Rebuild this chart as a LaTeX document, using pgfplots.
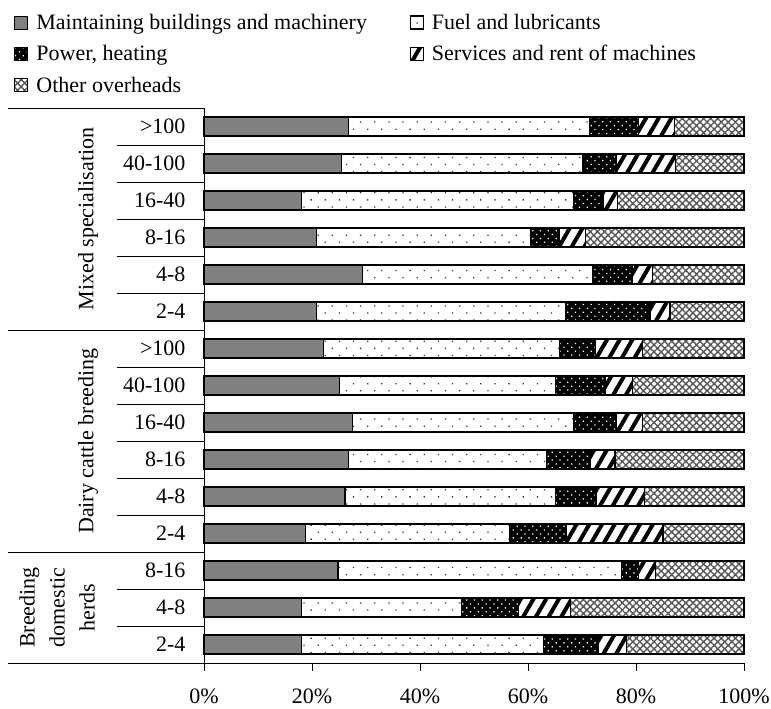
\documentclass[border=0pt]{standalone}
\usepackage{fontspec}
\setmainfont{Liberation Serif}
\usepackage{pgfplots}
\pgfplotsset{compat=1.18}
\usepackage{pgfplotstable}
\usetikzlibrary{patterns.meta}
\definecolor{maint}{RGB}{128,128,128}

\pgfplotstableread{
y maint fuel power serv other
0 18.1 44.8 10.1 5.3 21.7
1 18.1 29.6 10.6 9.6 32.1
2 24.8 52.5 3.2 3.1 16.4
3 18.8 37.8 10.6 17.8 15.0
4 26.1 39.0 7.5 8.9 18.5
5 26.8 36.6 8.2 4.5 23.9
6 27.5 41.0 7.9 4.8 18.8
7 25.1 40.0 9.3 4.9 20.7
8 22.2 43.6 6.7 8.7 18.8
9 20.9 46.1 15.6 3.7 13.7
10 29.3 42.7 7.3 3.8 16.9
11 20.9 39.6 5.4 4.7 29.4
12 18.1 50.4 5.4 2.7 23.4
13 25.4 44.8 6.2 10.9 12.7
14 26.8 44.6 9.1 6.7 12.8
}\data

\begin{document}
\begin{tikzpicture}[font=\fontsize{22}{26}\selectfont]
\begin{axis}[
 at={(0,0)}, anchor=south west,
 scale only axis, width=540pt, height=555pt,
 xbar stacked, bar width=19pt,
 xmin=0, xmax=100, ymin=-0.5, ymax=14.5,
 axis x line*=bottom, axis y line*=left,
 axis line style={line width=0.9pt},
 xtick={0,20,...,100}, xticklabels={0\%,20\%,40\%,60\%,80\%,100\%},
 tick align=outside, major tick length=8pt,
 xtick style={line width=0.9pt, black},
 ytick={0,...,14},
 yticklabels={2-4,4-8,8-16,2-4,4-8,8-16,16-40,40-100,>100,2-4,4-8,8-16,16-40,40-100,>100},
 ytick style={draw=none},
 xticklabel style={inner ysep=0pt, text depth=0pt, yshift=-18pt},
 yticklabel style={xshift=-7pt},
 legend columns=2, legend cell align=left,
 legend style={draw=none, fill=none, at={(-0.357,1.1766)}, anchor=north west, row sep=10.5pt,
   /tikz/every even column/.append style={column sep=41pt}},
 every axis plot/.append style={draw=black, line width=1.2pt},
 legend image code/.code={\draw[#1, line width=0.8pt] (0pt,-6.5pt) rectangle (13pt,6.5pt); \path (19pt,0pt);},
 clip=false,
]
\addplot[fill=maint] table[x=maint,y=y]{\data};
\addplot[preaction={fill=white}, pattern={Dots[angle=45,distance=10pt,radius=0.9pt]}, pattern color=black!80] table[x=fuel,y=y]{\data};
\addplot[preaction={fill=black}, pattern={Dots[angle=45,distance=5.5pt,radius=0.9pt]}, pattern color=white] table[x=power,y=y]{\data};
\addplot[preaction={fill=white}, pattern={Lines[angle=60,distance=11pt,line width=4pt]}, pattern color=black] table[x=serv,y=y]{\data};
\addplot[preaction={fill=white}, pattern={Hatch[angle=45,distance=5pt,line width=1.4pt]}, pattern color=black!65] table[x=other,y=y]{\data};
\legend{Maintaining buildings and machinery, Fuel and lubricants, {Power, heating}, Services and rent of machines, Other overheads}
\end{axis}
\foreach \k in {1,2,4,5,6,7,8,10,11,12,13,14} \draw[line width=0.9pt] (-87pt,{\k*37pt}) -- (0pt,{\k*37pt});
\foreach \k in {0,3,9,15} \draw[line width=0.9pt] (-196pt,{\k*37pt}) -- (0pt,{\k*37pt});
\node[rotate=90] at (-116pt,444pt) {Mixed specialisation};
\node[rotate=90] at (-116pt,222pt) {Dairy cattle breeding};
\node[rotate=90, align=center, font=\fontsize{22}{30}\selectfont] at (-147pt,55.5pt) {Breeding\\domestic\\herds};
\pgfresetboundingbox
\path (-204pt,-46pt) rectangle (567pt,663pt);
\end{tikzpicture}
\end{document}
